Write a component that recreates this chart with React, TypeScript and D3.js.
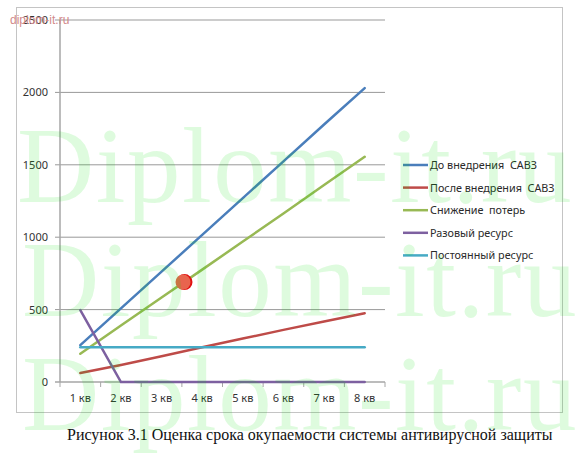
import React from "react";
import * as d3 from "d3";

const categories = ["1 кв", "2 кв", "3 кв", "4 кв", "5 кв", "6 кв", "7 кв", "8 кв"];
const yTicks = [0, 500, 1000, 1500, 2000, 2500];

const beforeSAVZ = [255, 508, 762, 1016, 1270, 1524, 1778, 2030];
const afterSAVZ = [62, 118, 178, 240, 300, 360, 418, 475];
const lossReduction = [195, 390, 584, 776, 970, 1164, 1360, 1555];
const oneTimeResource = [497, 0, 0, 0, 0, 0, 0, 0];
const constantResource = [240, 240, 240, 240, 240, 240, 240, 240];

const seriesNames = [
  "До внедрения  САВЗ",
  "После внедрения  САВЗ",
  "Снижение  потерь",
  "Разовый ресурс",
  "Постоянный ресурс",
];
const seriesColors = ["#4A7EBB", "#BE4B48", "#98B954", "#7D60A0", "#46AAC5"];
const seriesData = [beforeSAVZ, afterSAVZ, lossReduction, oneTimeResource, constantResource];

// break-even point: fractional quarter index and value
const breakEvenIndex = 2.54;
const breakEvenValue = 690;

const caption = "Рисунок 3.1 Оценка срока окупаемости системы антивирусной защиты";
const watermark = "Diplom-it.ru";
const smallMark = "diplom-it.ru";

export default function App() {
  const x = d3.scaleBand<string>().domain(categories).range([60, 385]).padding(0);
  const y = d3.scaleLinear().domain([0, 2500]).range([382, 20]);
  const cx = (i: number) => (x(categories[i]) as number) + x.bandwidth() / 2;

  const line = d3
    .line<number>()
    .x((_, i) => cx(i))
    .y((d) => y(d));

  const bx = d3.scaleLinear().domain([0, 1]).range([cx(0), cx(1)]);
  const beX = bx(breakEvenIndex);
  const beY = y(breakEvenValue);

  const boundaries = categories.map((c) => x(c) as number).concat([385]);

  return (
    <svg
      width={581}
      height={460}
      style={{ position: "absolute", left: 0, top: 0, background: "#fff" }}
      fontFamily="'Noto Sans', sans-serif"
    >
      <rect x={0} y={0} width={581} height={460} fill="#fff" />
      {/* chart frame */}
      <rect x={16.5} y={7.5} width={546} height={405} fill="none" stroke="#c4c4c4" strokeWidth={1} />

      {/* gridlines */}
      {yTicks.map((t) => (
        <g key={t}>
          {t > 0 && (
            <line x1={55} x2={385} y1={y(t)} y2={y(t)} stroke="#999" strokeWidth={1} />
          )}
          <text x={48} y={y(t) + 4} fontSize={11} textAnchor="end" fill="#333">
            {t}
          </text>
        </g>
      ))}
      {/* axes */}
      <line x1={60} x2={60} y1={20} y2={382} stroke="#a6a6a6" strokeWidth={1.5} />
      <line x1={55} x2={385} y1={382} y2={382} stroke="#a6a6a6" strokeWidth={1.5} />
      {boundaries.map((b, i) => (
        <line key={i} x1={b} x2={b} y1={382} y2={387} stroke="#a6a6a6" strokeWidth={1} />
      ))}
      {categories.map((c, i) => (
        <text key={c} x={cx(i)} y={402} fontSize={11} textAnchor="middle" fill="#333">
          {c}
        </text>
      ))}

      {/* series */}
      {seriesData.map((d, i) => (
        <path
          key={i}
          d={line(d) as string}
          fill="none"
          stroke={seriesColors[i]}
          strokeWidth={2.5}
          strokeLinecap="round"
        />
      ))}

      {/* break-even point */}
      <circle cx={beX + 1} cy={beY} r={8} fill="#e01010" />
      <circle cx={beX - 0.5} cy={beY} r={7.5} fill="#e8644e" />

      {/* legend */}
      {seriesNames.map((n, i) => {
        const ly = 165 + i * 22.6;
        return (
          <g key={n}>
            <line x1={403} x2={428} y1={ly} y2={ly} stroke={seriesColors[i]} strokeWidth={2.5} />
            <text x={430} y={ly + 4} fontSize={10.8} fill="#2a2a2a" style={{ whiteSpace: "pre" }}>
              {n}
            </text>
          </g>
        );
      })}

      {/* caption */}
      <text x={67} y={440} fontSize={16} fontFamily="'Liberation Serif', serif" fill="#111">
        {caption}
      </text>

      {/* small mark */}
      <text x={10} y={24} fontSize={12} fill="#d28a8a" fontFamily="'Liberation Sans', sans-serif">
        {smallMark}
      </text>

      {/* watermarks */}
      {[{ x: 17, y: 202 }, { x: 22, y: 316 }, { x: 22, y: 430 }].map((p, i) => (
        <text
          key={i}
          x={p.x}
          y={p.y}
          fontSize={107}
          letterSpacing={1.5}
          fontFamily="'Liberation Serif', serif"
          fill="#00e000"
          fillOpacity={0.13}
        >
          {watermark}
        </text>
      ))}
    </svg>
  );
}
